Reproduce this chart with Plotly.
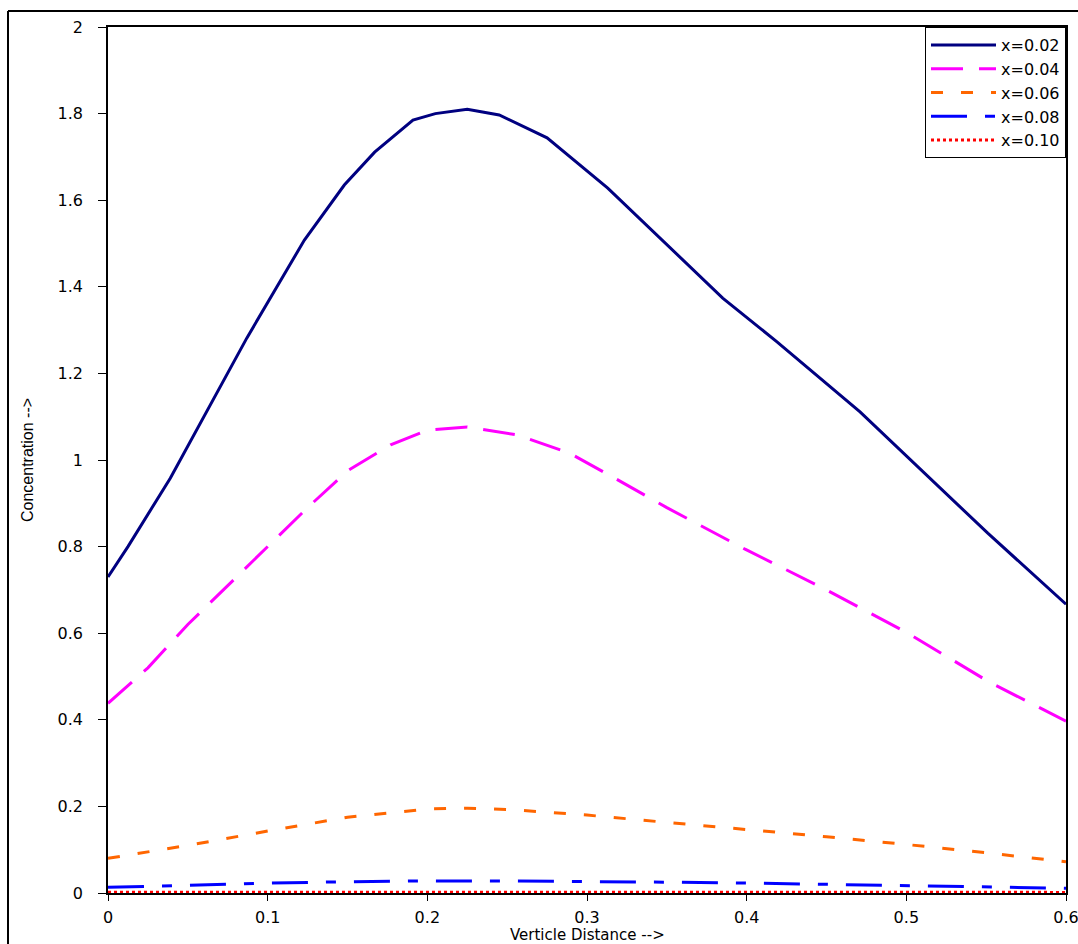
import plotly.graph_objects as go

# ---- data ----
x_002 = [0, 0.0125, 0.039, 0.073, 0.087, 0.123, 0.148, 0.167, 0.191, 0.205, 0.225, 0.245, 0.275, 0.313, 0.35, 0.385, 0.419, 0.471, 0.551, 0.6]
y_002 = [0.73, 0.80, 0.958, 1.189, 1.282, 1.508, 1.635, 1.711, 1.785, 1.80, 1.81, 1.797, 1.744, 1.628, 1.497, 1.374, 1.273, 1.111, 0.831, 0.667]

x_004 = [0, 0.025, 0.05, 0.075, 0.1, 0.125, 0.15, 0.177, 0.2, 0.225, 0.256, 0.289, 0.314, 0.35, 0.399, 0.45, 0.501, 0.552, 0.6]
y_004 = [0.438, 0.52, 0.62, 0.71, 0.80, 0.89, 0.975, 1.035, 1.069, 1.076, 1.058, 1.016, 0.965, 0.89, 0.794, 0.70, 0.60, 0.487, 0.397]

x_006 = [0, 0.05, 0.1, 0.15, 0.2, 0.225, 0.25, 0.3, 0.35, 0.4, 0.45, 0.5, 0.55, 0.6]
y_006 = [0.08, 0.11, 0.143, 0.175, 0.194, 0.196, 0.193, 0.18, 0.163, 0.147, 0.13, 0.112, 0.093, 0.072]

x_008 = [0, 0.05, 0.1, 0.15, 0.2, 0.25, 0.3, 0.35, 0.4, 0.45, 0.5, 0.55, 0.6]
y_008 = [0.013, 0.018, 0.023, 0.026, 0.028, 0.028, 0.027, 0.025, 0.023, 0.02, 0.017, 0.014, 0.011]

x_010 = [0, 0.1, 0.2, 0.3, 0.4, 0.5, 0.6]
y_010 = [0.0015, 0.002, 0.0022, 0.0022, 0.002, 0.0017, 0.0014]

names = ["x=0.02", "x=0.04", "x=0.06", "x=0.08", "x=0.10"]
y_ticks = [0, 0.2, 0.4, 0.6, 0.8, 1, 1.2, 1.4, 1.6, 1.8, 2]
x_ticks = [0, 0.1, 0.2, 0.3, 0.4, 0.5, 0.6]

series = [
    (x_002, y_002, names[0], "#000080", "solid", 3),
    (x_004, y_004, names[1], "#FF00FF", "32px,16px", 3),
    (x_006, y_006, names[2], "#FF6600", "12px,18px", 3),
    (x_008, y_008, names[3], "#0000FF", "36px,18px,10px,18px", 3),
    (x_010, y_010, names[4], "#FF0000", "dot", 3),
]

fig = go.Figure()
for xs, ys, nm, col, dash, w in series:
    fig.add_trace(go.Scatter(x=xs, y=ys, name=nm, mode="lines",
                             line=dict(color=col, dash=dash, width=w)))

L, R, T, B = 108, 12, 27, 51
W, H = 1078, 944
pw, ph = W - L - R, H - T - B
TICKFONT = "DejaVu Sans, Liberation Sans, Arial"

fig.update_layout(
    width=W, height=H,
    margin=dict(l=L, r=R, t=T, b=B, autoexpand=False),
    paper_bgcolor="white", plot_bgcolor="white",
    font=dict(family="Liberation Sans, Arial, sans-serif", color="black"),
    showlegend=True,
    legend=dict(x=1, xanchor="right", y=1, yanchor="top",
                bgcolor="white", bordercolor="black", borderwidth=1,
                font=dict(size=16, family=TICKFONT),
                itemwidth=65, tracegroupgap=0),
    xaxis=dict(range=[0, 0.6], tickvals=x_ticks, ticks="outside", ticklen=6,
               tickcolor="black", showgrid=False, zeroline=False, automargin=False,
               showline=True, linecolor="black", linewidth=1.5, mirror=True,
               ticklabeloverflow="allow",
               tickfont=dict(size=16, family=TICKFONT), ticklabelstandoff=3),
    yaxis=dict(range=[0, 2], tickvals=y_ticks, ticks="outside", ticklen=8,
               tickcolor="black", showgrid=False, zeroline=False, automargin=False,
               showline=True, linecolor="black", linewidth=1.5, mirror=True,
               tickfont=dict(size=16, family=TICKFONT), ticklabelstandoff=12),
    annotations=[
        dict(text="Verticle Distance -->", xref="paper", yref="paper",
             x=0.5, y=(893 - 935) / ph, xanchor="center", yanchor="middle",
             showarrow=False, font=dict(size=15, family=TICKFONT)),
        dict(text="Concentration -->", xref="paper", yref="paper",
             x=(27 - L) / pw, y=(893 - 460) / ph, xanchor="center", yanchor="middle",
             textangle=-90, showarrow=False,
             font=dict(size=16, family="Liberation Sans Narrow, Arial Narrow, Liberation Sans")),
    ],
    shapes=[
        dict(type="line", xref="paper", yref="paper",
             x0=(8 - L) / pw, x1=(8 - L) / pw, y0=(893 - 11) / ph, y1=(893 - 960) / ph,
             line=dict(color="black", width=2)),
        dict(type="line", xref="paper", yref="paper",
             x0=(8 - L) / pw, x1=(1090 - L) / pw, y0=(893 - 11) / ph, y1=(893 - 11) / ph,
             line=dict(color="black", width=2)),
    ],
)

fig.write_html("out.html")
